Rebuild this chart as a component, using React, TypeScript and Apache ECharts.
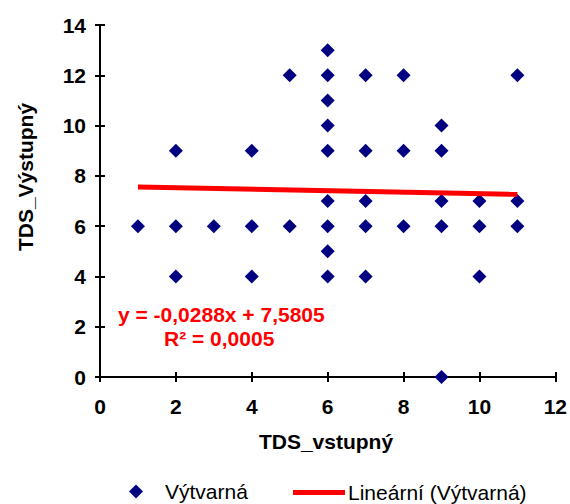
import React, { useEffect, useRef } from "react";
import * as echarts from "echarts";

const xValues = [1, 2, 2, 2, 3, 4, 4, 4, 5, 5, 6, 6, 6, 6, 6, 6, 6, 6, 6, 7, 7, 7, 7, 7, 8, 8, 8, 9, 9, 9, 9, 9, 10, 10, 10, 11, 11, 11];
const yValues = [6, 9, 6, 4, 6, 9, 6, 4, 12, 6, 13, 12, 11, 10, 9, 7, 6, 5, 4, 12, 9, 7, 6, 4, 12, 9, 6, 10, 9, 7, 6, 0, 7, 6, 4, 12, 7, 6];
const trendX = [1, 11];
const trendY = [7.552, 7.264];
const scatterName = "Výtvarná";
const trendName = "Lineární (Výtvarná)";
const xTitle = "TDS_vstupný";
const yTitle = "TDS_Výstupný";
const equationText = "y = -0,0288x + 7,5805";
const r2Text = "R² = 0,0005";

const FONT = '"Liberation Sans", Arial, sans-serif';

export default function App() {
  const ref = useRef<HTMLDivElement>(null);
  useEffect(() => {
    if (!ref.current) return;
    const chart = echarts.init(ref.current, undefined, { renderer: "svg" });
    const scatterData = xValues.map((x, i) => [x, yValues[i]]);
    const trendData = trendX.map((x, i) => [x, trendY[i]]);
    const lineStyle = { color: "#000000", width: 2, opacity: 1 };
    const axisCommon = {
      min: 0,
      splitLine: { show: false },
    };
    chart.setOption({
      animation: false,
      backgroundColor: "#ffffff",
      grid: { left: 100, right: 13, top: 25, bottom: 127 },
      xAxis: [
        {
          ...axisCommon,
          type: "value",
          max: 12,
          interval: 2,
          axisLine: { show: true, onZero: false, lineStyle },
          axisTick: { show: true, length: 5, lineStyle },
          axisLabel: { margin: 19, color: "#000", fontSize: 21, fontWeight: "bold", fontFamily: FONT },
        },
        {
          ...axisCommon,
          type: "value",
          position: "bottom",
          max: 12,
          interval: 2,
          axisLine: { show: false },
          axisTick: { show: true, inside: true, length: 5, lineStyle },
          axisLabel: { show: false },
        },
      ],
      yAxis: [
        {
          ...axisCommon,
          type: "value",
          max: 14,
          interval: 2,
          axisLine: { show: true, onZero: false, lineStyle },
          axisTick: { show: true, length: 5, lineStyle },
          axisLabel: { margin: 14, color: "#000", fontSize: 21, fontWeight: "bold", fontFamily: FONT },
        },
        {
          ...axisCommon,
          type: "value",
          position: "left",
          max: 14,
          interval: 2,
          axisLine: { show: false },
          axisTick: { show: true, inside: true, length: 5, lineStyle },
          axisLabel: { show: false },
        },
      ],
      legend: [
        {
          data: [{ name: scatterName, icon: "diamond" }],
          left: 129,
          top: 481,
          padding: 0,
          itemWidth: 14,
          itemHeight: 14,
          textStyle: { color: "#000", fontSize: 21, fontFamily: FONT, padding: [0, 0, 0, 17] },
        },
        {
          data: [{ name: trendName, icon: "rect" }],
          left: 293,
          top: 482,
          padding: 0,
          itemWidth: 52,
          itemHeight: 5,
          textStyle: { color: "#000", fontSize: 21, fontFamily: FONT, padding: [0, 0, 0, -2] },
        },
      ],
      series: [
        {
          name: scatterName,
          type: "scatter",
          xAxisIndex: 0,
          yAxisIndex: 0,
          symbol: "diamond",
          symbolSize: 14,
          itemStyle: { color: "#000080", opacity: 1 },
          data: scatterData,
        },
        {
          name: trendName,
          type: "line",
          xAxisIndex: 0,
          yAxisIndex: 0,
          showSymbol: false,
          symbol: "none",
          lineStyle: { color: "#ff0000", width: 5 },
          itemStyle: { color: "#ff0000" },
          data: trendData,
        },
      ],
      graphic: [
        {
          type: "text",
          x: 118,
          y: 314,
          style: {
            text: equationText,
            font: `bold 21px ${FONT}`,
            fill: "#ff0000",
            verticalAlign: "middle",
            align: "left",
          },
        },
        {
          type: "text",
          x: 164,
          y: 338,
          style: {
            text: r2Text,
            font: `bold 21px ${FONT}`,
            fill: "#ff0000",
            verticalAlign: "middle",
            align: "left",
          },
        },
        {
          type: "text",
          x: 326,
          y: 441,
          style: {
            text: xTitle,
            font: `bold 21px ${FONT}`,
            fill: "#000",
            verticalAlign: "middle",
            align: "center",
          },
        },
        {
          type: "text",
          x: 25,
          y: 177,
          rotation: Math.PI / 2,
          style: {
            text: yTitle,
            font: `bold 21px ${FONT}`,
            fill: "#000",
            verticalAlign: "middle",
            align: "center",
          },
        },
      ],
    });
    return () => chart.dispose();
  }, []);
  return (
    <div
      ref={ref}
      style={{ position: "fixed", left: 0, top: 0, width: 570, height: 504 }}
    />
  );
}
